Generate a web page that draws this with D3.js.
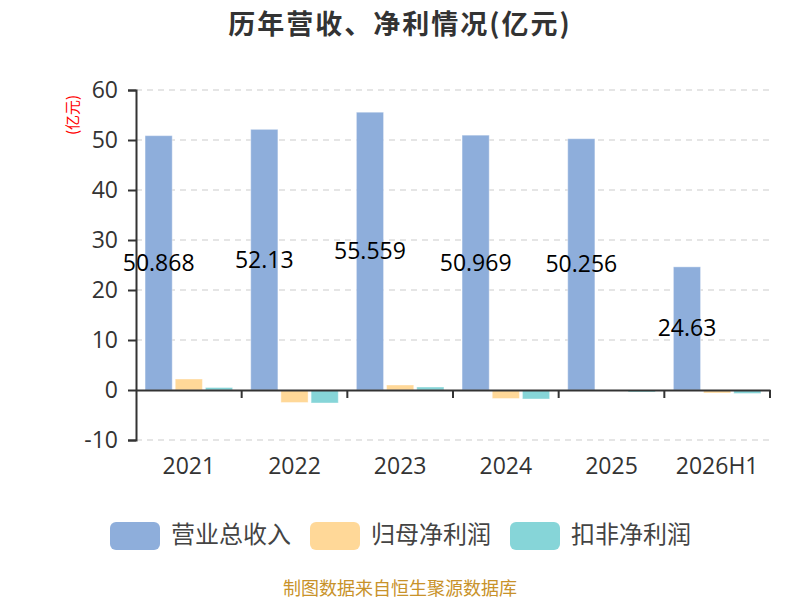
<!DOCTYPE html>
<html><head><meta charset="utf-8">
<script src="https://cdn.jsdelivr.net/npm/d3@7/dist/d3.min.js"></script>
<style>body{margin:0;background:#fff}svg{display:block;font-family:"Noto Sans CJK SC","Open Sans",sans-serif}</style>
</head><body><svg id="c" width="800" height="600"></svg>
<script>
const categories = ["2021","2022","2023","2024","2025","2026H1"];
const seriesNames = ["营业总收入","归母净利润","扣非净利润"];
const revenue = [50.868, 52.13, 55.559, 50.969, 50.256, 24.63];
const netProfit = [2.2, -2.5, 1.0, -1.7, -0.1, -0.6];
const deductedProfit = [0.5, -2.6, 0.6, -1.8, -0.4, -0.7];
const yTicks = [-10, 0, 10, 20, 30, 40, 50, 60];
const colors = ["#8EAEDB", "#FFD898", "#86D5D8"];

(function(){
const svg = d3.select("#c");
const pl = 136, pr = 770, pt = 90, pb = 440;
const x = d3.scaleBand().domain(categories).range([pl, pr]);
const y = d3.scaleLinear().domain([-10, 60]).range([pb, pt]);
const x1 = d3.scaleBand().domain(seriesNames).range([0, x.bandwidth()]).paddingInner(0.1).paddingOuter(0.3);

// title
svg.append("text").attr("x", 400).attr("y", 34).attr("text-anchor", "middle")
  .attr("font-size", 27).attr("letter-spacing", 2).attr("font-weight", "bold").attr("fill", "#333")
  .text("历年营收、净利情况(亿元)");

// grid
svg.append("g").selectAll("line").data(yTicks.filter(d => d !== 0)).join("line")
  .attr("x1", pl).attr("x2", pr).attr("y1", d => y(d)).attr("y2", d => y(d))
  .attr("stroke", "#ccc").attr("stroke-dasharray", "6,5").attr("stroke-width", 1.2);

// y axis
const ya = svg.append("g").attr("transform", `translate(${pl},0)`)
  .call(d3.axisLeft(y).tickValues(yTicks).tickSize(8).tickPadding(10).tickFormat(d => String(d)));
ya.select(".domain").attr("stroke", "#333").attr("stroke-width", 2);
ya.selectAll(".tick line").attr("stroke", "#333").attr("stroke-width", 2);
ya.selectAll("text").attr("font-size", 23).attr("fill", "#333").attr("font-family", "'Open Sans',sans-serif");

// y axis unit
svg.append("text").attr("transform", "translate(78,115) rotate(-90)").attr("text-anchor", "middle")
  .attr("font-size", 15).attr("fill", "red").text("(亿元)");

// bars
const data = categories.map((c, i) => ({c, vals: [revenue[i], netProfit[i], deductedProfit[i]]}));
const g = svg.append("g");
data.forEach(d => {
  d.vals.forEach((v, j) => {
    g.append("rect")
      .attr("x", x(d.c) + x1(seriesNames[j]))
      .attr("width", x1.bandwidth())
      .attr("y", y(Math.max(0, v)))
      .attr("height", Math.abs(y(v) - y(0)))
      .attr("fill", colors[j])
      .attr("stroke", "#fff").attr("stroke-opacity", 0.4).attr("stroke-width", 1);
  });
});

// x axis at zero
const xa = svg.append("g").attr("transform", `translate(0,${y(0)})`)
  .call(d3.axisBottom(x).tickSize(0).tickFormat(""));
xa.select(".domain").attr("stroke", "#333").attr("stroke-width", 2);
const bounds = categories.map(c => x(c)).concat([pr]);
svg.append("g").selectAll("line").data(bounds.slice(1)).join("line")
  .attr("x1", d => d).attr("x2", d => d).attr("y1", y(0)).attr("y2", y(0) + 8)
  .attr("stroke", "#333").attr("stroke-width", 2);
svg.append("g").selectAll("text").data(categories).join("text")
  .attr("x", d => x(d) + x.bandwidth() / 2).attr("y", 474).attr("text-anchor", "middle")
  .attr("font-size", 23).attr("fill", "#333").attr("font-family", "'Open Sans',sans-serif").text(d => d);

// labels
svg.append("g").selectAll("text").data(data).join("text")
  .attr("x", d => x(d.c) + x1(seriesNames[0]) + x1.bandwidth() / 2)
  .attr("y", d => (y(d.vals[0]) + y(0)) / 2)
  .attr("dy", "0.35em").attr("text-anchor", "middle")
  .attr("font-size", 23).attr("fill", "#000").attr("font-family", "'Open Sans',sans-serif")
  .text(d => d.vals[0]);

// legend
const legX = [110, 310, 510];
seriesNames.forEach((n, i) => {
  svg.append("rect").attr("x", legX[i]).attr("y", 522).attr("width", 50).attr("height", 28)
    .attr("rx", 6).attr("fill", colors[i]);
  svg.append("text").attr("x", legX[i] + 61).attr("y", 535).attr("dy", "0.35em")
    .attr("font-size", 24).attr("fill", "#444").text(n);
});

// footer
svg.append("text").attr("x", 400).attr("y", 595).attr("text-anchor", "middle")
  .attr("font-size", 18).attr("fill", "#C8922A").text("制图数据来自恒生聚源数据库");
})();
</script></body></html>
